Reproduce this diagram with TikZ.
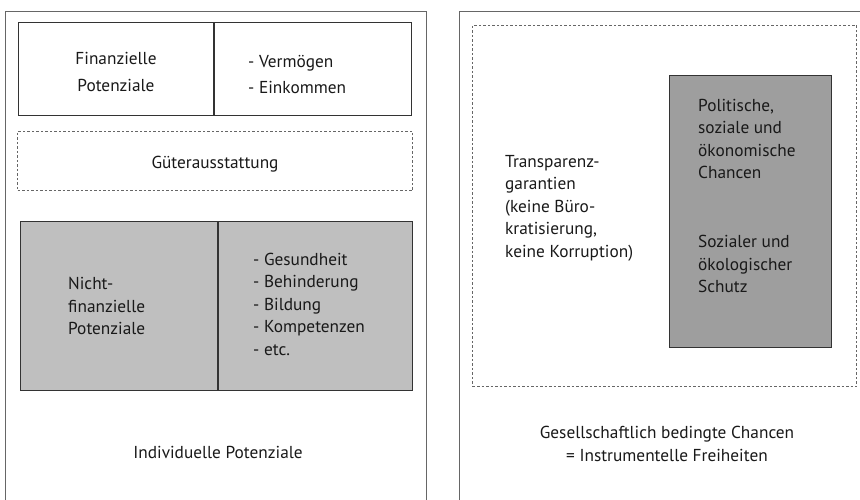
\documentclass[tikz,border=0pt]{standalone}
\usepackage{fontspec}
\setmainfont{PT Sans}
\usetikzlibrary{positioning}

\begin{document}
\begin{tikzpicture}[x=1pt,y=-1pt]

  \tikzset{frame node/.style={rectangle, draw=black!60, line width=1.3pt,
  		anchor=north west, inner sep=0pt}, }
  \tikzset{cell node/.style={rectangle, draw=black!80, line width=1pt,
  		anchor=north west, inner sep=0pt}, }
  \tikzset{dash node/.style={rectangle, draw=black!60, line width=1pt,
  		dash pattern=on 2.5pt off 2pt, anchor=north west, inner sep=0pt}, }
  \tikzset{label node/.style={inner sep=0pt, text=black!90,
  		font=\fontsize{17.3}{22.5}\selectfont}, }
\useasboundingbox (0,0) rectangle (860,500);
\clip (0,0) rectangle (860,500);
% outer frames, open at the bottom
\node[frame node, minimum width=421pt, minimum height=520pt] (left) at (5,11) {};
\node[frame node, minimum width=450pt, minimum height=520pt] (right) at (459,11) {};
% individual potentials
\node[cell node, minimum width=195pt, minimum height=93pt] (fin) at (18,22) {};
\node[cell node, minimum width=197pt, minimum height=93pt, right=0pt of fin] (finlist) {};
\node[dash node, minimum width=395pt, minimum height=59pt] (gueter) at (17,131) {};
\node[cell node, fill=black!25, minimum width=197pt, minimum height=169pt] (nonfin) at (20,221) {};
\node[cell node, fill=black!25, minimum width=194pt, minimum height=169pt, right=0pt of nonfin] (nonfinlist) {};
\node[label node, align=center, font=\fontsize{17.3}{27}\selectfont, yshift=-3pt] (fintext) at (fin.center) {Finanzielle\\Potenziale};
\node[label node, align=left, font=\fontsize{17.3}{26}\selectfont, right=34pt of fin.east, yshift=-5.5pt] (finitems) {- Vermögen\\- Einkommen};
\node[label node, yshift=-3pt] (guetertext) at (gueter.center) {Güterausstattung};
\node[label node, align=left, right=48pt of nonfin.west] (nonfintext) {Nicht-\\finanzielle\\Potenziale};
\node[label node, align=left, right=35pt of nonfin.east, yshift=2pt] (nonfinitems) {- Gesundheit\\- Behinderung\\- Bildung\\- Kompetenzen\\- etc.};
\node[label node] (indiv) at (218,452) {Individuelle Potenziale};
% social chances
\node[dash node, minimum width=384pt, minimum height=361pt] (chances) at (472,25) {};
\node[cell node, fill=black!38, minimum width=162pt, minimum height=272pt] (opp) at (669,75) {};
\node[label node, align=left, anchor=west] (transp) at (505,208) {Transparenz-\\garantien\\(keine Büro-\\kratisierung,\\keine Korruption)};
\node[label node, align=left, anchor=west] (politics) at (698,139) {Politische,\\soziale und\\ökonomische\\Chancen};
\node[label node, align=left, anchor=west] (protect) at (698,264) {Sozialer und\\ökologischer\\Schutz};
\node[label node, align=center] (society) at (667,444) {Gesellschaftlich bedingte Chancen\\= Instrumentelle Freiheiten};
%%
\end{tikzpicture}
\end{document}
